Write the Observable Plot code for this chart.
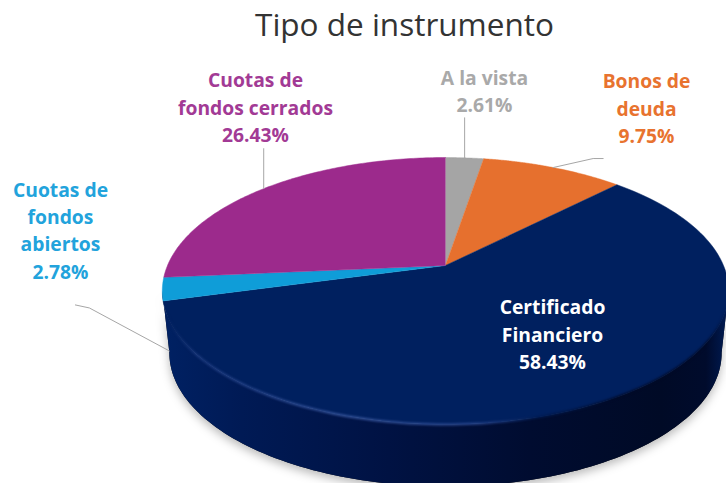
<!DOCTYPE html>
<html>
<head>
<meta charset="utf-8">
<style>
html,body{margin:0;padding:0;background:#fff;overflow:hidden}
svg{display:block}
</style>
<script src="https://cdn.jsdelivr.net/npm/d3@7"></script>
<script src="https://cdn.jsdelivr.net/npm/@observablehq/plot@0.6"></script>
</head>
<body>
<div id="chart"></div>
<script>
// Data, clockwise from the top of the pie
const categories = ["A la vista", "Bonos de deuda", "Certificado Financiero", "Cuotas de fondos abiertos", "Cuotas de fondos cerrados"];
const shares = [2.61, 9.75, 58.43, 2.78, 26.43];
const shareLabels = ["2.61%", "9.75%", "58.43%", "2.78%", "26.43%"];
const labelLines = ["A la vista", "Bonos de\ndeuda", "Certificado\nFinanciero", "Cuotas de\nfondos\nabiertos", "Cuotas de\nfondos cerrados"];
const titleText = "Tipo de instrumento";

// Styles
const sliceColors = ["#a5a5a5", "#e6702e", "#00205f", "#0f9dd8", "#9c2a8c"];
const labelColors = ["#a9a9a9", "#e8732f", "#ffffff", "#22a3dc", "#a23a95"];
const wallStops = [[0, "#002163"], [0.14, "#001a55"], [0.4, "#001243"], [0.65, "#000c30"], [0.88, "#000a26"], [0.96, "#000b2c"], [1, "#001c55"]];
const rimStops = [[0, "#00205f"], [0.05, "#1c3a80"], [0.3, "#38579f"], [0.55, "#2a478f"], [0.66, "#001a50"], [0.8, "#000a28"], [0.96, "#000a28"], [1, "#00205f"]];

// Perspective of the pie disc (scene units are px from the pie apex)
const radius = 278, tilt = -0.191, squash = 128.6, baseShrink = 0.975, depth = 62;
const project = (frac) => {
  const t = frac * 2 * Math.PI, u = Math.sin(t), v = -Math.cos(t), d = 1 + tilt * v;
  return {x: radius * u / d, y: squash * v / d};
};
const toBase = (p) => ({x: p.x * baseShrink, y: p.y + depth});

// Cumulative fractions
const total = d3.sum(shares);
let acc = 0;
const spans = shares.map((s) => { const a = acc / total; acc += s; return [a, acc / total]; });
const arcFracs = (a, b) => d3.range(0, 121).map((i) => a + (b - a) * i / 120);

const slicePoints = categories.flatMap((name, i) => [
  {name, x: 0, y: 0},
  ...arcFracs(...spans[i]).map((f) => ({name, ...project(f)}))
]);
const wallRim = arcFracs(0.28, 0.72).map(project);
const bevelRim = arcFracs(0.29, 0.69).map(project);
const wallPoints = [...wallRim, ...wallRim.map(toBase).reverse()];

// Text and leader layout, px from the pie apex
const labelDx = [39, 201, 107, -385, -190];
const labelDy = [-174, -157, 69, -35, -158];
const mid = spans.map(([a, b]) => project((a + b) / 2));
const leaders = [
  {a: mid[0], dx: [0], dy: [-40]},
  {a: mid[1], dx: [40, 50], dy: [-9, -9]},
  {a: toBase(mid[3]), dx: [-80, -94], dy: [-43, -46]},
  {a: mid[4], dx: [0], dy: [-40]}
];
const leaderPoints = leaders.flatMap((l, k) => [
  {k, x: l.a.x, y: l.a.y},
  ...l.dx.map((dx, j) => ({k, x: l.a.x + dx, y: l.a.y + l.dy[j]}))
]);

const labels = categories.map((c, i) => ({
  text: labelLines[i] + "\n" + shareLabels[i],
  x: labelDx[i], y: labelDy[i] - 1.5, color: labelColors[i]
}));

const gradient = (defs, id, stops) => {
  const g = defs.append("linearGradient").attr("id", id).attr("x1", 0).attr("x2", 1).attr("y1", 0).attr("y2", 0);
  stops.forEach(([o, c]) => g.append("stop").attr("offset", o).attr("stop-color", c));
};
const defsMark = () => {
  const defs = d3.create("svg:defs");
  gradient(defs, "wallFill", wallStops);
  gradient(defs, "rimStroke", rimStops);
  return defs.node();
};

const font = "'Open Sans', sans-serif";
const chart = Plot.plot({
  width: 726, height: 483,
  margin: 0,
  x: {domain: [-445, 281], axis: null},
  y: {domain: [218, -265], axis: null},
  color: {type: "categorical", domain: categories, range: sliceColors},
  style: {background: "#fff"},
  marks: [
    defsMark,
    // shadow and side wall
    Plot.line(wallPoints, {x: "x", y: "y", fill: "#000", fillOpacity: 0.9, stroke: "none",
      imageFilter: "drop-shadow(0 4px 5px rgba(0,0,0,0.3))"}),
    Plot.line(wallPoints, {x: "x", y: "y", fill: "url(#wallFill)", stroke: "none"}),
    // top face
    Plot.line(slicePoints, {x: "x", y: "y", z: "name", fill: "name", stroke: "name", strokeWidth: 0.5}),
    // bevel on the front rim
    Plot.line(bevelRim, {x: "x", y: "y", stroke: "url(#rimStroke)", strokeWidth: 2, imageFilter: "blur(1px)"}),
    // leader lines
    Plot.line(leaderPoints, {x: "x", y: "y", z: "k", stroke: "#a6a6a6", strokeWidth: 1}),
    // labels
    Plot.text(labels, {x: "x", y: "y", text: "text", fill: "color", fontFamily: font, fontWeight: 700, fontSize: 19.3, lineHeight: 1.42, textAnchor: "middle", lineAnchor: "middle"}),
    Plot.text([titleText], {frameAnchor: "top", dx: 41, dy: 13, fontFamily: font, fontSize: 31.5, fill: "#333333", lineAnchor: "top"})
  ]
});
document.getElementById("chart").append(chart);
</script>
</body>
</html>
